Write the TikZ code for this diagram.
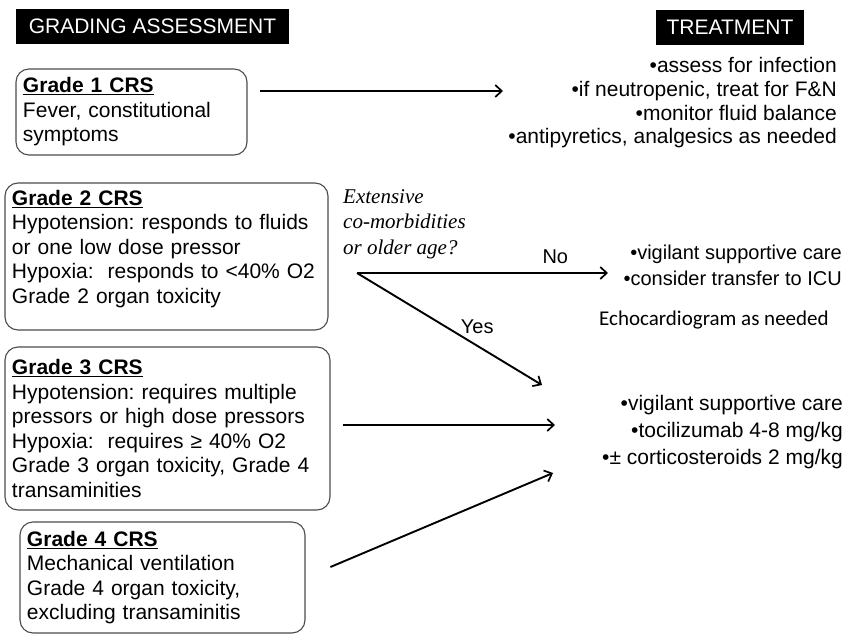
\documentclass[tikz,border=0pt]{standalone}
\usepackage{fontspec}
\setmainfont{Liberation Sans}
\newfontfamily\qfont{Liberation Serif}
\newfontfamily\echofont{Carlito}
\usetikzlibrary{positioning,arrows.meta}
\frenchspacing

\tikzset{
  grade/.style={draw=black!70, line width=1.1pt, rounded corners=13pt, align=left,
    inner xsep=7pt, inner ysep=0pt, font=\fontsize{21}{24.5}\selectfont},
  header/.style={fill=black, text=white, inner sep=0pt, minimum height=35pt,
    font=\fontsize{21}{25}\selectfont},
  treat/.style={align=right, inner sep=0pt},
  arr/.style={line width=1.9pt, -{Straight Barb[length=6.5pt,width=12pt,line width=1.7pt]}},
  lbl/.style={inner sep=0pt, font=\fontsize{20}{24}\selectfont},
}

\begin{document}
\begin{tikzpicture}[x=1pt, y=-1pt]
  \useasboundingbox (0,0) rectangle (859,637);

  \node[header, minimum width=273pt] (ga) at (152.5,26.5) {GRADING ASSESSMENT};
  \node[header, minimum width=148pt] (tt) at (730,27.5) {TREATMENT};

  \node[grade, text width=217pt, minimum height=86pt] (g1) at (131.5,112)
    {\underline{\textbf{Grade 1 CRS}}\\Fever, constitutional\\symptoms};
  \node[grade, text width=309pt, minimum height=147pt] (g2) at (166.5,256.5)
    {\underline{\textbf{Grade 2 CRS}}\\Hypotension: responds to fluids\\or one low dose pressor\\Hypoxia:\ \ responds to <40\% O2\\Grade 2 organ toxicity\\[-5pt]\mbox{}};
  \node[grade, text width=311pt, minimum height=163pt] (g3) at (167.5,428.5)
    {\underline{\textbf{Grade 3 CRS}}\\Hypotension: requires multiple\\pressors or high dose pressors\\Hypoxia:\ \ requires ≥ 40\% O2\\Grade 3 organ toxicity, Grade 4\\transaminities};
  \node[grade, text width=271pt, minimum height=111pt] (g4) at (162.5,577.5)
    {\underline{\textbf{Grade 4 CRS}}\\Mechanical ventilation\\Grade 4 organ toxicity,\\excluding transaminitis};

  \node[treat, anchor=east, font=\fontsize{21}{23.7}\selectfont] (tr1) at (837,103)
    {•assess for infection\\•if neutropenic, treat for F\&N\\•monitor fluid balance\\•antipyretics, analgesics as needed};
  \node[treat, anchor=east, font=\fontsize{20}{26}\selectfont] (tr2) at (842,265)
    {•vigilant supportive care\\•consider transfer to ICU};
  \node[treat, anchor=east, font=\fontsize{21}{27}\selectfont] (tr3) at (843,432)
    {•vigilant supportive care\\•tocilizumab 4-8 mg/kg\\•± corticosteroids 2 mg/kg};

  \node[inner sep=0pt, anchor=west, align=left, font=\qfont\itshape\fontsize{21}{25.5}\selectfont] (q) at (343,224)
    {Extensive\\co-morbidities\\or older age?};
  \node[inner sep=0pt, anchor=west, font=\echofont\fontsize{21}{25}\selectfont] (echo) at (599,320)
    {Echocardiogram as needed};

  \coordinate (b) at (357,273);
  \coordinate (m1) at (503,91);
  \coordinate (m2) at (608,273);
  \coordinate (y3) at (542,385);
  \coordinate (m3) at (555,425);
  \coordinate (m4) at (553,473);

  \draw[arr, shorten <=12pt] (g1.east |- m1) -- (m1);
  \draw[arr] (b) -- (m2) node[lbl, pos=0.79, above=8pt] {No};
  \draw[arr] (b) -- (y3) node[lbl, pos=0.65, above=11pt] {Yes};
  \draw[arr, shorten <=12pt] (g3.east |- m3) -- (m3);
  \draw[arr, shorten <=27pt] (g4.east) -- (m4);
\end{tikzpicture}
\end{document}
